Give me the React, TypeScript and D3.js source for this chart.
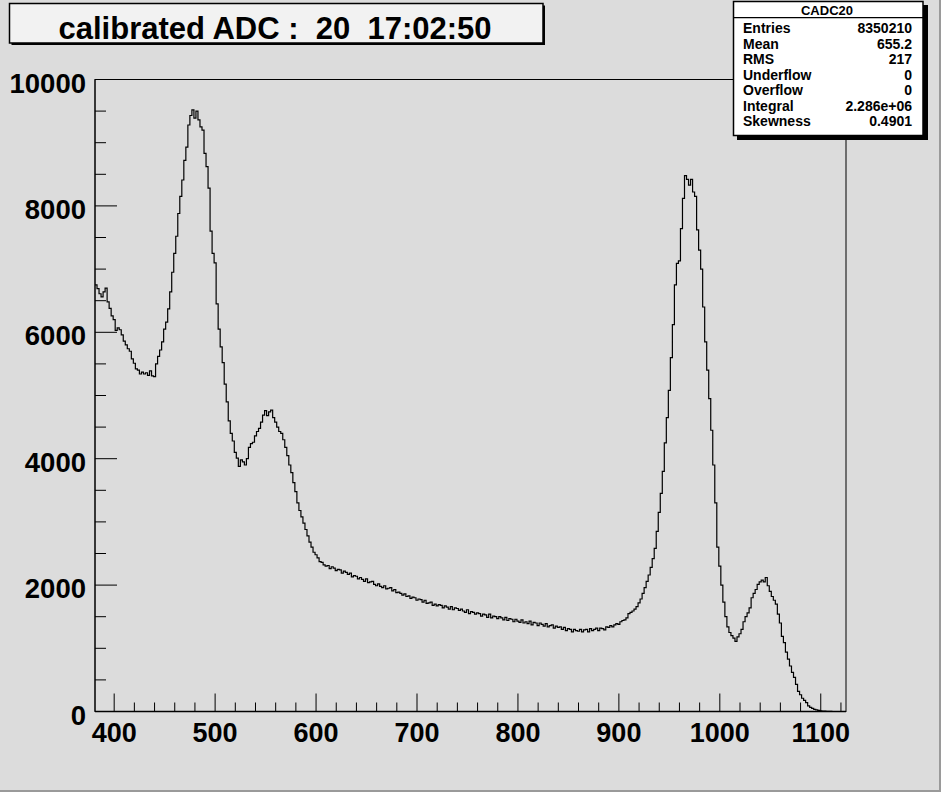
import React from "react";
import * as d3 from "d3";

const binStart = 381;
const binWidth = 2;
const counts: number[] = [
  6750, 6690, 6610, 6560, 6640, 6700, 6480, 6380, 6260, 6200,
  6030, 6070, 6040, 5960, 5860, 5800, 5740, 5700, 5580, 5510,
  5420, 5400, 5340, 5370, 5340, 5360, 5320, 5390, 5310, 5300,
  5500, 5620, 5720, 5850, 6050, 6160, 6370, 6640, 6950, 7250,
  7520, 7880, 8150, 8410, 8720, 8930, 9280, 9430, 9520, 9390,
  9500, 9360, 9250, 9200, 8830, 8620, 8280, 7600, 7250, 7100,
  6450, 6050, 5770, 5520, 5180, 4900, 4600, 4400, 4280, 4100,
  4010, 3880, 3980, 3950, 3900, 4000, 4180, 4240, 4260, 4360,
  4430, 4480, 4580, 4690, 4760, 4680, 4740, 4770, 4650, 4580,
  4500, 4430, 4400, 4300, 4180, 4050, 3900, 3780, 3620, 3480,
  3300, 3180, 3080, 2980, 2880, 2780, 2680, 2600, 2520, 2480,
  2430, 2370, 2360, 2320, 2300, 2310, 2260, 2290, 2270, 2230,
  2250, 2240, 2190, 2220, 2200, 2170, 2190, 2130, 2150, 2140,
  2100, 2120, 2090, 2060, 2100, 2040, 2050, 2060, 2010, 1990,
  2020, 1980, 1960, 1990, 1940, 1950, 1960, 1910, 1930, 1880,
  1890, 1870, 1840, 1860, 1820, 1830, 1790, 1810, 1800, 1760,
  1780, 1770, 1730, 1760, 1710, 1720, 1730, 1680, 1700, 1670,
  1690, 1680, 1640, 1670, 1650, 1620, 1660, 1610, 1640, 1630,
  1600, 1620, 1590, 1570, 1610, 1550, 1580, 1570, 1540, 1560,
  1550, 1510, 1540, 1530, 1490, 1540, 1480, 1510, 1500, 1470,
  1500, 1480, 1450, 1490, 1440, 1470, 1460, 1420, 1460, 1430,
  1410, 1450, 1400, 1420, 1390, 1430, 1370, 1410, 1400, 1360,
  1400, 1380, 1350, 1390, 1340, 1360, 1370, 1320, 1350, 1330,
  1340, 1300, 1330, 1280, 1310, 1300, 1260, 1300, 1280, 1270,
  1300, 1260, 1290, 1300, 1260, 1310, 1280, 1300, 1320, 1280,
  1320, 1310, 1290, 1340, 1330, 1360, 1340, 1370, 1390, 1380,
  1420, 1440, 1450, 1480, 1550, 1570, 1590, 1620, 1660, 1720,
  1780, 1870, 1960, 2060, 2160, 2280, 2420, 2580, 2850, 3150,
  3450, 3800, 4250, 4650, 5080, 5600, 6120, 6750, 7090, 7130,
  7640, 8120, 8480, 8420, 8330, 8420, 8220, 8150, 7620, 7300,
  7000, 6400, 5850, 5400, 4950, 4450, 3900, 3300, 2600, 2300,
  2000, 1730, 1500, 1340, 1250, 1200, 1160, 1110, 1180, 1230,
  1300, 1420, 1500, 1560, 1640, 1800, 1870, 1930, 2010, 2050,
  2080, 2050, 2120, 1990, 1900, 1820, 1760, 1700, 1540, 1400,
  1190, 1090, 940, 830, 720, 620, 540, 430, 320, 265,
  210, 175, 140, 90, 65, 50, 35, 25, 18, 12,
  8, 5, 3, 2, 1, 0, 0, 0, 0, 0, 0, 0,
];

const xMajorTicks = [400, 500, 600, 700, 800, 900, 1000, 1100];
const yMajorTicks = [0, 2000, 4000, 6000, 8000, 10000];
const titleText = "calibrated ADC :  20  17:02:50";
const statsName = "CADC20";
const statsLabels = ["Entries", "Mean", "RMS", "Underflow", "Overflow", "Integral", "Skewness"];
const statsValues = ["8350210", "655.2", "217", "0", "0", "2.286e+06", "0.4901"];

const W = 941;
const H = 792;
const FL = 95, FR = 846, FT = 79.5, FB = 711.5;

export default function App() {
  const x = d3.scaleLinear().domain([381, 1125]).range([FL, FR]);
  const y = d3.scaleLinear().domain([0, 10000]).range([FB, FT]);

  const pts: [number, number][] = [];
  counts.forEach((c, i) => {
    const a = binStart + i * binWidth;
    pts.push([x(a), y(c)]);
    pts.push([x(a + binWidth), y(c)]);
  });
  const path = d3.line()(pts) || "";

  const xMinor = d3.range(380, 1125, 20).filter((v) => v >= 381 && v % 100 !== 0);
  const yMinor = d3.range(0, 10001, 500).filter((v) => v % 2000 !== 0);

  const font = "'Liberation Sans', Arial, Helvetica, sans-serif";

  return (
    <svg width={W} height={H} style={{ position: "absolute", left: 0, top: 0 }} fontFamily={font}>
      <defs>
        <clipPath id="frameClip">
          <rect x={FL} y={FT - 1} width={FR - FL} height={FB - FT + 1} />
        </clipPath>
      </defs>
      <rect x={0} y={0} width={W} height={H} fill="#dcdcdc" />
      <rect x={0} y={H - 2} width={W} height={2} fill="#9a9a9a" />
      <rect x={W - 2} y={0} width={2} height={H} fill="#9a9a9a" />

      {/* frame */}
      <rect x={FL} y={FT} width={FR - FL} height={FB - FT} fill="#dcdcdc" stroke="#000" strokeWidth={1} />

      {/* y ticks */}
      {yMajorTicks.map((v) => (
        <line key={"ym" + v} x1={FL} x2={FL + 22} y1={y(v)} y2={y(v)} stroke="#000" strokeWidth={1} />
      ))}
      {yMinor.map((v) => (
        <line key={"yn" + v} x1={FL} x2={FL + 11} y1={y(v)} y2={y(v)} stroke="#000" strokeWidth={1} />
      ))}
      {/* x ticks */}
      {xMajorTicks.map((v) => (
        <line key={"xm" + v} x1={x(v)} x2={x(v)} y1={FB} y2={FB - 18} stroke="#000" strokeWidth={1} />
      ))}
      {xMinor.map((v) => (
        <line key={"xn" + v} x1={x(v)} x2={x(v)} y1={FB} y2={FB - 9} stroke="#000" strokeWidth={1} />
      ))}

      {/* histogram */}
      <path d={path} fill="none" stroke="#000" strokeWidth={1.2} clipPath="url(#frameClip)" />

      {/* axis lines on top */}
      <line x1={FL} x2={FL} y1={FT} y2={FB} stroke="#000" strokeWidth={1} />
      <line x1={FL} x2={FR} y1={FB} y2={FB} stroke="#000" strokeWidth={1.5} />

      {/* y labels */}
      {yMajorTicks.map((v) => (
        <text key={"yl" + v} x={86} y={y(v) + 13} textAnchor="end" fontSize={27.5} fontWeight="bold" fill="#000">
          {String(v)}
        </text>
      ))}
      {/* x labels */}
      {xMajorTicks.map((v) => (
        <text key={"xl" + v} x={x(v)} y={742} textAnchor="middle" fontSize={27} fontWeight="bold" fill="#000">
          {String(v)}
        </text>
      ))}

      {/* title box */}
      <rect x={11.5} y={5.5} width={533.5} height={39.5} fill="#000" />
      <rect x={9.5} y={3.5} width={533.5} height={39.5} fill="#f2f2f2" stroke="#000" strokeWidth={1.5} />
      <text x={275} y={39} textAnchor="middle" fontSize={31} fontWeight="bold" fill="#000" style={{ whiteSpace: "pre" }}>
        {titleText}
      </text>

      {/* stats box */}
      <rect x={737} y={5} width={191} height={135} fill="#000" />
      <rect x={733.5} y={1.5} width={189.5} height={134} fill="#ffffff" stroke="#000" strokeWidth={1.5} />
      <line x1={733.5} x2={923} y1={17.7} y2={17.7} stroke="#000" strokeWidth={1.2} />
      <text x={827} y={15} textAnchor="middle" fontSize={13} fontWeight="bold" fill="#000">
        {statsName}
      </text>
      {statsLabels.map((l, i) => (
        <g key={l}>
          <text x={743} y={33 + i * 15.5} fontSize={14} fontWeight="bold" fill="#000">
            {l}
          </text>
          <text x={912} y={33 + i * 15.5} textAnchor="end" fontSize={14} fontWeight="bold" fill="#000">
            {statsValues[i]}
          </text>
        </g>
      ))}
    </svg>
  );
}
